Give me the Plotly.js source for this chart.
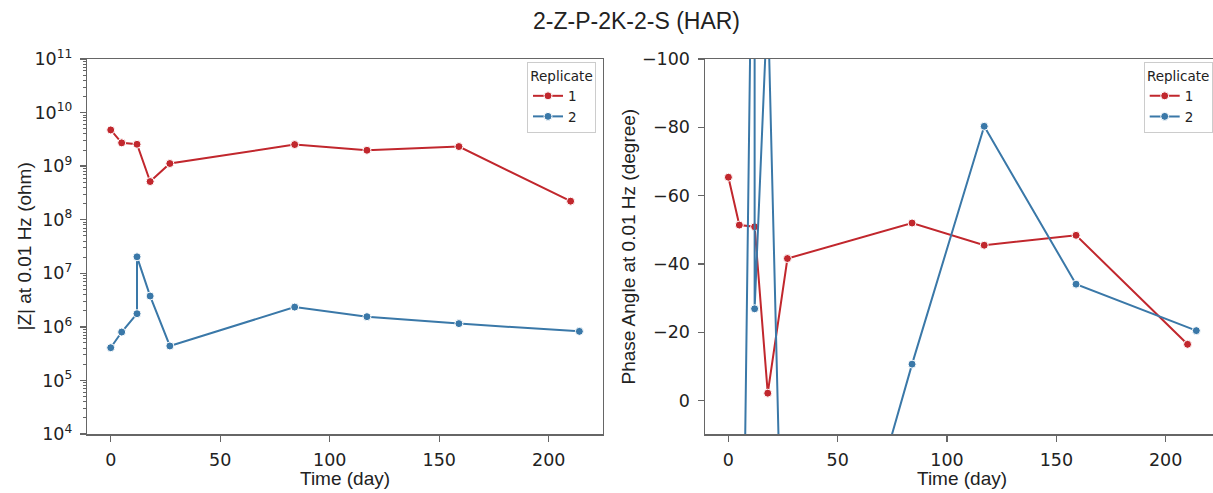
<!DOCTYPE html>
<html>
<head>
<meta charset="utf-8">
<script src="https://cdn.plot.ly/plotly-3.0.1.min.js"></script>
<style>
html, body { margin: 0; padding: 0; background: #fff; }
#wrap { width: 1213px; height: 493px; overflow: hidden; position: relative; }
#chart { width: 1220px; height: 493px; }
</style>
</head>
<body>
<div id="wrap"><div id="chart"></div></div>
<script>
// ---- data ----
const days1 = [0, 5, 12, 18, 27, 84, 117, 159, 210];
const days2 = [0, 5, 12, 12, 18, 27, 84, 117, 159, 214];
const z1 = [4.74e9, 2.72e9, 2.56e9, 5.16e8, 1.12e9, 2.53e9, 1.98e9, 2.32e9, 2.22e8];
const z2 = [4.08e5, 8.0e5, 1.76e6, 2.03e7, 3.76e6, 4.4e5, 2.34e6, 1.55e6, 1.15e6, 8.24e5];
const phase1 = [-65.4, -51.4, -50.9, -2.2, -41.6, -52.0, -45.5, -48.4, -16.5];
const phase2 = [130, 145, -205, -26.9, -118, 117, -10.7, -80.3, -34.1, -20.5];
const replicateNames = ['1', '2'];
const decades = [4, 5, 6, 7, 8, 9, 10, 11];
const xTicks = [0, 50, 100, 150, 200];

const RED = '#c1272d';
const BLUE = '#3a78a8';
const AX = '#666666';
const TXT = '#222222';
const TICKFONT = {family: 'DejaVu Sans', size: 17.5, color: TXT};
const LABFONT = {family: 'Liberation Sans, Arial', size: 19, color: TXT};

const W = 1220, H = 493;
const px = v => v / W;
const py = v => (H - v) / H;

const majorVals = decades.map(d => Math.pow(10, d));
const majorText = decades.map(d => '10<sup>' + d + '</sup>');
const minorVals = [];
decades.slice(0, -1).forEach(d => { for (let m = 2; m <= 9; m++) minorVals.push(m * Math.pow(10, d)); });

function mk(x, y, color, name, xa, ya, leg, show) {
  return {
    x: x, y: y, type: 'scatter', mode: 'lines+markers', name: name,
    xaxis: xa, yaxis: ya, legend: leg, showlegend: show,
    line: {color: color, width: 2},
    marker: {color: color, size: 8, line: {color: '#ffffff', width: 1}},
    cliponaxis: true
  };
}

const traces = [
  mk(days1, z1, RED, replicateNames[0], 'x', 'y', 'legend', true),
  mk(days2, z2, BLUE, replicateNames[1], 'x', 'y', 'legend', true),
  mk(days1, phase1, RED, replicateNames[0], 'x2', 'y2', 'legend2', true),
  mk(days2, phase2, BLUE, replicateNames[1], 'x2', 'y2', 'legend2', true)
];

const xCommon = {
  range: [-10.7, 224.7], tickmode: 'array', tickvals: xTicks,
  ticks: 'outside', ticklen: 6, tickwidth: 1.3, tickcolor: AX,
  showline: true, linecolor: AX, linewidth: 1.5, mirror: true,
  showgrid: false, zeroline: false, tickfont: TICKFONT, ticklabelstandoff: 3
};

const legCommon = {
  bgcolor: 'rgba(255,255,255,0.85)', bordercolor: '#cccccc', borderwidth: 1,
  font: {family: 'DejaVu Sans', size: 13.5, color: TXT},
  title: {text: 'Replicate', side: 'top center', font: {family: 'DejaVu Sans', size: 13.5, color: TXT}},
  xanchor: 'right', yanchor: 'top', itemwidth: 30, tracegroupgap: 0
};

const layout = {
  width: W, height: H,
  margin: {l: 0, r: 0, t: 0, b: 0},
  paper_bgcolor: '#ffffff', plot_bgcolor: '#ffffff',
  xaxis: Object.assign({}, xCommon, {domain: [px(87.3), px(602.8)], anchor: 'y'}),
  xaxis2: Object.assign({}, xCommon, {domain: [px(705), px(1219.7)], anchor: 'y2'}),
  yaxis: {
    type: 'log', range: [4, 11], domain: [py(434), py(59)], anchor: 'x',
    tickmode: 'array', tickvals: majorVals, ticktext: majorText,
    ticks: 'outside', ticklen: 6, tickwidth: 1.3, tickcolor: AX,
    minor: {tickmode: 'array', tickvals: minorVals, ticks: 'outside', ticklen: 3, tickwidth: 1, tickcolor: AX, showgrid: false},
    showline: true, linecolor: AX, linewidth: 1.5, mirror: true,
    showgrid: false, zeroline: false, tickfont: TICKFONT, ticklabelstandoff: 4
  },
  yaxis2: {
    range: [9.75, -100], domain: [py(434), py(59)], anchor: 'x2',
    tickmode: 'linear', tick0: 0, dtick: 20,
    ticks: 'outside', ticklen: 6, tickwidth: 1.3, tickcolor: AX,
    showline: true, linecolor: AX, linewidth: 1.5, mirror: true,
    showgrid: false, zeroline: false, tickfont: TICKFONT, ticklabelstandoff: 4
  },
  legend: Object.assign({}, legCommon, {x: px(596), y: py(62)}),
  legend2: Object.assign({}, legCommon, {x: px(1212.7), y: py(62)}),
  annotations: [
    {text: '2-Z-P-2K-2-S (HAR)', xref: 'paper', yref: 'paper', x: px(636), y: py(21),
     xanchor: 'center', yanchor: 'middle', showarrow: false,
     font: {family: 'Liberation Sans, Arial', size: 23, color: TXT}},
    {text: 'Time (day)', xref: 'paper', yref: 'paper', x: px(345), y: py(478),
     xanchor: 'center', yanchor: 'middle', showarrow: false, font: LABFONT},
    {text: 'Time (day)', xref: 'paper', yref: 'paper', x: px(962), y: py(478),
     xanchor: 'center', yanchor: 'middle', showarrow: false, font: LABFONT},
    {text: '|Z| at 0.01 Hz (ohm)', xref: 'paper', yref: 'paper', x: px(24), y: py(246.5),
     xanchor: 'center', yanchor: 'middle', showarrow: false, textangle: -90, font: LABFONT},
    {text: 'Phase Angle at 0.01 Hz (degree)', xref: 'paper', yref: 'paper', x: px(628), y: py(246.5),
     xanchor: 'center', yanchor: 'middle', showarrow: false, textangle: -90, font: LABFONT}
  ]
};

Plotly.newPlot('chart', traces, layout, {displayModeBar: false, staticPlot: true});
</script>
</body>
</html>
